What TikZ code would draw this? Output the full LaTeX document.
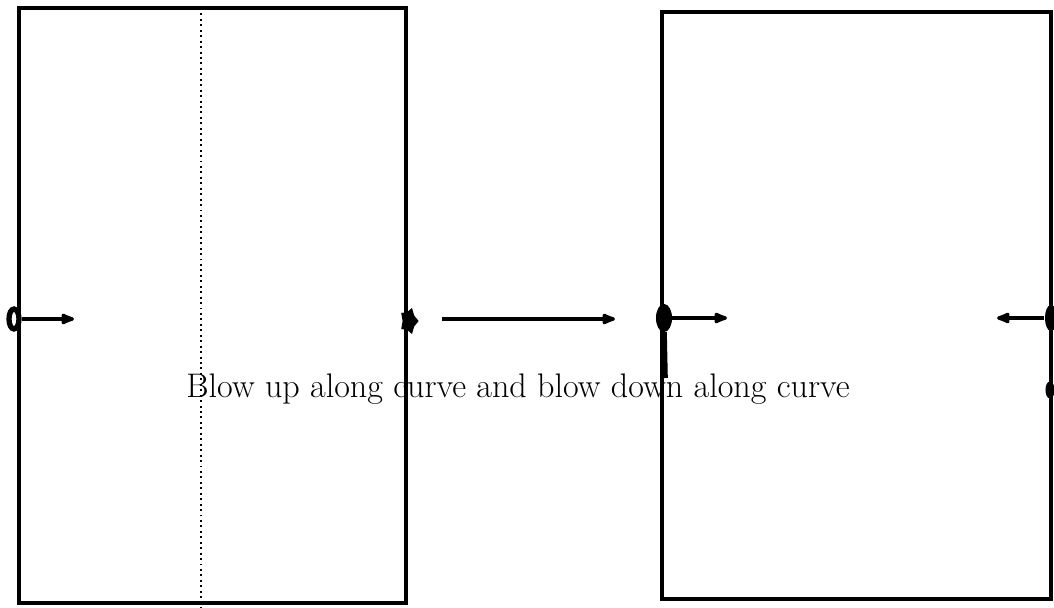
\documentclass[tikz,border=0pt]{standalone}
\usetikzlibrary{positioning, arrows.meta, shapes.geometric}

\begin{document}
\begin{tikzpicture}[x=0.02cm, y=-0.02cm,
  panel/.style={draw, line width=2.3pt, inner sep=0pt},
  blob/.style={draw, fill, ellipse, inner sep=0pt, line width=0.6pt},
  conn/.style={line width=1.9pt, -{Latex[length=10pt, width=7.5pt, round]}},
  caption/.style={font=\fontsize{19.4}{23}\selectfont, inner sep=0pt}]
\useasboundingbox (0,0) rectangle (1054,608);
% the two panels
\node[panel, minimum width=7.74cm, minimum height=11.9cm] (lbox) at (212.5,305.5) {};
\node[panel, minimum width=7.78cm, minimum height=11.74cm] (rbox) at (856.5,305.5) {};
\draw[dotted, line width=1.1pt] (201,8) -- (201,608);
% left panel marks
\node[blob, fill=white, line width=3pt, minimum width=0.2cm, minimum height=0.4cm] (lpt) at (14,319) {};
\coordinate (lend) at (74,319);
\draw[conn] (lpt.east) -- (lend);
\node[star, star points=5, fill, inner sep=0pt, minimum size=0.55cm, rotate=-90, yscale=0.7] (cusp) at (409,321) {};
% map between panels
\coordinate (mstart) at (442,319);
\coordinate (mend) at (615,319);
\draw[conn] (mstart) -- (mend);
% right panel marks
\node[blob, minimum width=0.3cm, minimum height=0.54cm] (rpt) at (664,318) {};
\coordinate (rdown) at (665,378);
\draw[line width=3.2pt] (rpt.south) -- (rdown);
\coordinate (rend) at (727,318);
\draw[conn] (rpt.east) -- (rend);
\node[blob, minimum width=0.22cm, minimum height=0.5cm] (ept) at (1051,318) {};
\node[blob, minimum width=0.16cm, minimum height=0.32cm] (elow) at (1050,390) {};
\coordinate (estart) at (1044,318);
\coordinate (eend) at (997,318);
\draw[conn] (estart) -- (eend);
\node[caption] (txt) at (518,389) {Blow up along curve and blow down along curve};
\end{tikzpicture}
\end{document}
